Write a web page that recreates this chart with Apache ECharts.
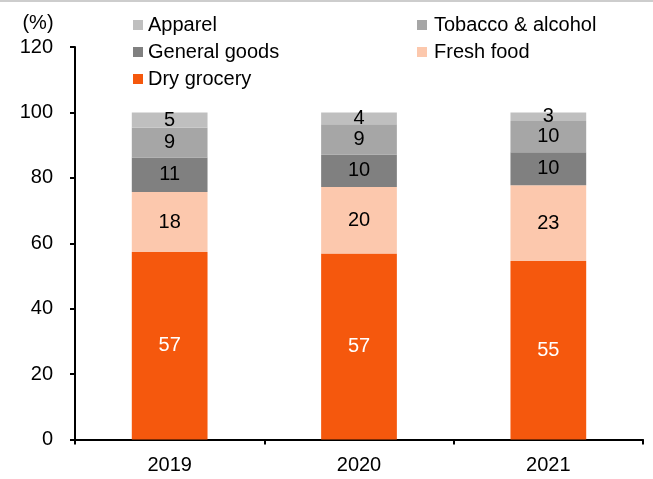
<!DOCTYPE html>
<html>
<head>
<meta charset="utf-8">
<script src="https://cdn.jsdelivr.net/npm/echarts@6/dist/echarts.min.js"></script>
<style>
  html, body { margin: 0; padding: 0; background: #fff; }
  #chart { position: absolute; left: 0; top: 0; width: 653px; height: 479px; }
  #topline { position: absolute; left: 0; top: 0; width: 653px; height: 2px; background: #cdcdcd; z-index: 5; }
</style>
</head>
<body>
<div id="chart"></div>
<div id="topline"></div>
<script>
const years = ['2019', '2020', '2021'];
const dryGrocery = [57.3, 56.9, 54.6];
const freshFood = [18.4, 20.3, 23.1];
const generalGoods = [10.5, 9.9, 10.1];
const tobaccoAlcohol = [9.1, 9.3, 9.6];
const apparel = [4.7, 3.6, 2.6];
const yTicks = { min: 0, max: 120, interval: 20 };
const unitLabel = '(%)';

const FONT = '"Liberation Sans", Arial, sans-serif';
const FS = 20;

function mkSeries(name, data, color, labelColor) {
  return {
    name: name,
    type: 'bar',
    stack: 'total',
    data: data,
    barWidth: '40%',
    itemStyle: { color: color },
    label: {
      show: true,
      position: 'inside',
      color: labelColor,
      fontFamily: FONT,
      fontSize: FS,
      formatter: p => String(Math.round(p.value))
    },
    emphasis: { disabled: true },
    animation: false
  };
}

const chart = echarts.init(document.getElementById('chart'), null, { renderer: 'canvas' });
const legendText = { fontFamily: FONT, fontSize: FS, color: '#000', lineHeight: 20 };
chart.setOption({
  backgroundColor: '#fff',
  animation: false,
  grid: { left: 75, right: 10, top: 47, bottom: 39.5, containLabel: false },
  legend: [
    {
      orient: 'vertical', left: 133, top: 15, padding: 0, itemGap: 7,
      itemWidth: 10, itemHeight: 10, icon: 'rect',
      textStyle: legendText,
      data: ['Apparel', 'General goods', 'Dry grocery'],
      selectedMode: false
    },
    {
      orient: 'vertical', left: 417, top: 15, padding: 0, itemGap: 7,
      itemWidth: 10, itemHeight: 10, icon: 'rect',
      textStyle: Object.assign({}, legendText, { padding: [0, 0, 0, 2] }),
      data: ['Tobacco & alcohol', 'Fresh food'],
      selectedMode: false
    }
  ],
  xAxis: {
    type: 'category',
    data: years,
    axisLine: { lineStyle: { color: '#000', width: 2 } },
    axisTick: { show: true, length: 5, lineStyle: { color: '#000', width: 2 } },
    axisLabel: { color: '#000', fontFamily: FONT, fontSize: FS, margin: 16 }
  },
  yAxis: {
    type: 'value',
    min: yTicks.min, max: yTicks.max, interval: yTicks.interval,
    name: unitLabel,
    nameLocation: 'end',
    nameGap: 14,
    nameTextStyle: { color: '#000', fontFamily: FONT, fontSize: FS, align: 'center', padding: [0, 74, 0, 0] },
    splitLine: { show: false },
    axisLine: { show: true, lineStyle: { color: '#000', width: 2 } },
    axisTick: { show: true, length: 5, lineStyle: { color: '#000', width: 2 } },
    axisLabel: { color: '#000', fontFamily: FONT, fontSize: FS, margin: 22 }
  },
  series: [
    mkSeries('Dry grocery', dryGrocery, '#F5580D', '#fff'),
    mkSeries('Fresh food', freshFood, '#FCC8AD', '#000'),
    mkSeries('General goods', generalGoods, '#808080', '#000'),
    mkSeries('Tobacco & alcohol', tobaccoAlcohol, '#A6A6A6', '#000'),
    mkSeries('Apparel', apparel, '#BFBFBF', '#000')
  ]
});
</script>
</body>
</html>
